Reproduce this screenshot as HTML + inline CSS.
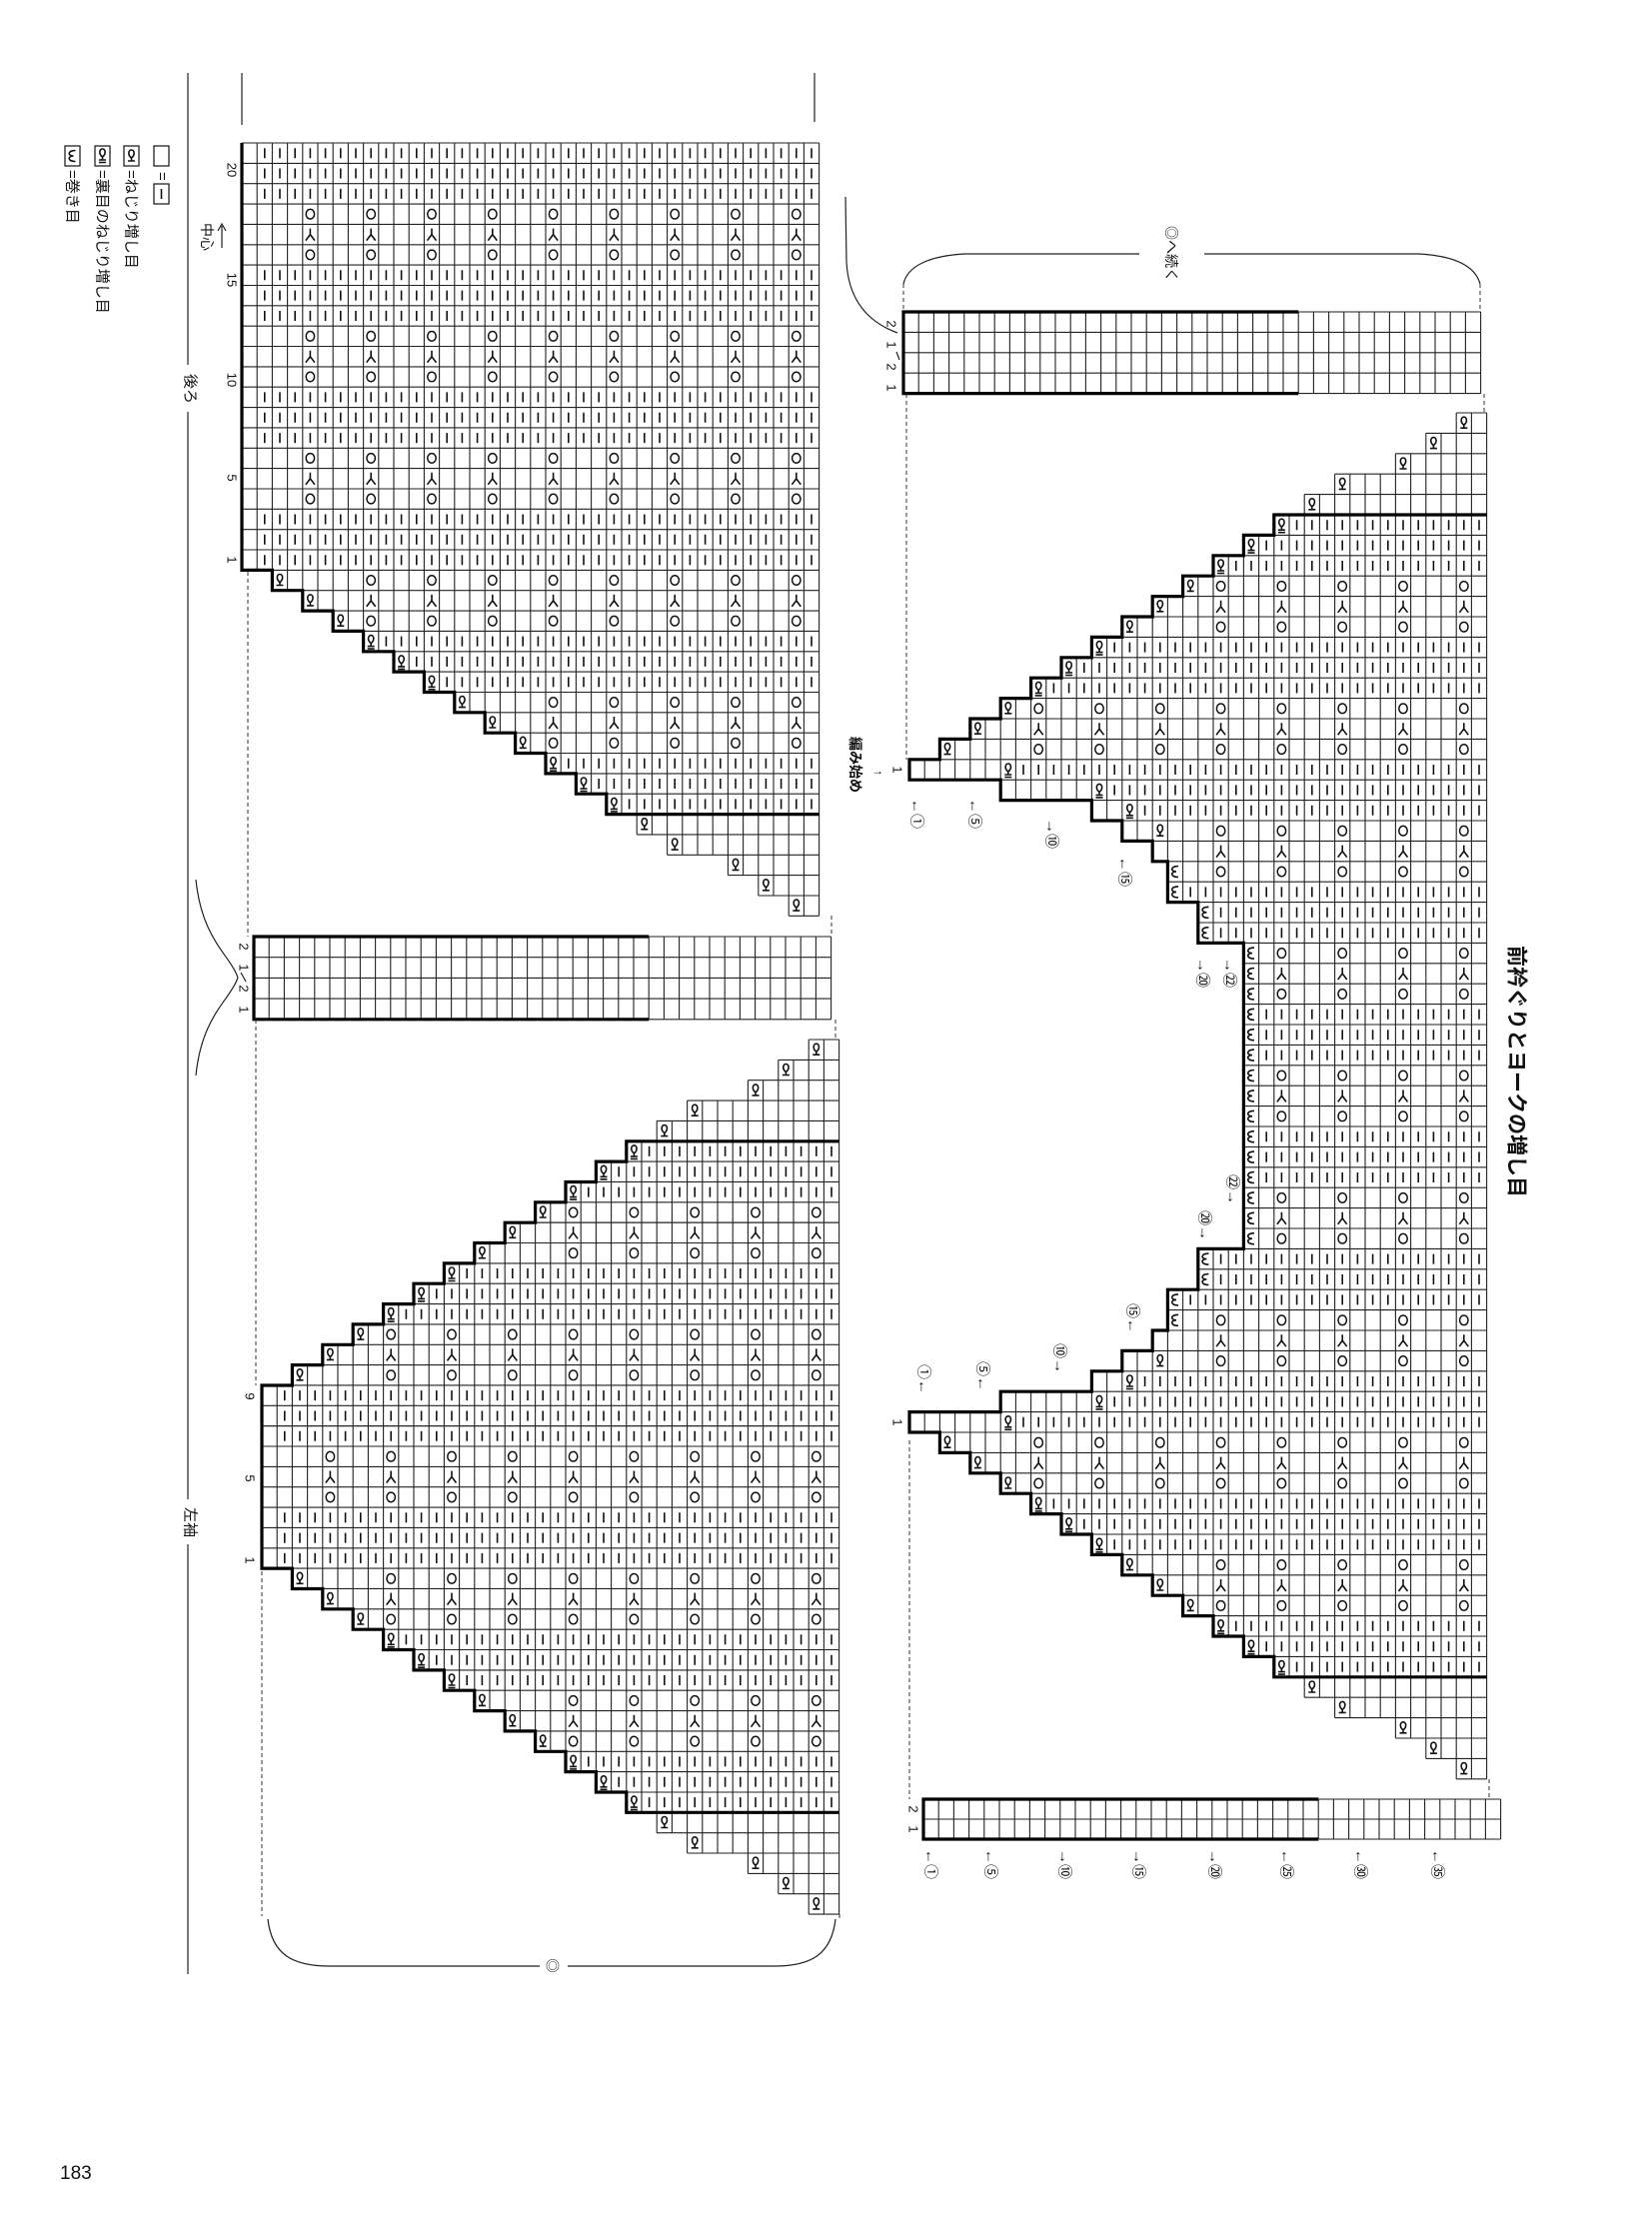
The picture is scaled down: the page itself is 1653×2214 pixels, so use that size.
<!DOCTYPE html>
<html><head><meta charset="utf-8">
<style>
html,body{margin:0;padding:0;background:#fff;}
svg{display:block;}
text{font-family:"Liberation Sans","Noto Sans CJK JP",sans-serif;fill:#111;}
</style></head>
<body>
<svg id="s" xmlns="http://www.w3.org/2000/svg" width="1653" height="2214" viewBox="0 0 1653 2214">
<rect width="1653" height="2214" fill="#fff"/>
<g id="g"></g>
<g fill="none" stroke="#222" stroke-width="1.2">
  <path d="M188 73V365M188 412V1500M188 1545V1975"/>
  <path d="M242 73V125M815 73V122"/>
  <path d="M222 248V226M218 231L222 224L226 231"/>
  <path d="M196 880C202 940 230 955 238 978C230 1001 202 1016 196 1076"/>
  <path d="M268 1920C272 1955 292 1967 330 1967L540 1967M568 1967L775 1967C812 1967 832 1955 836 1920"/>
  <path d="M904 284C908 266 930 256 965 254L1140 254M1205 254L1420 254C1455 256 1476 266 1481 284"/>
  <path d="M846 197L847 262C849 300 868 322 898 333"/>
</g>
<g fill="none" stroke="#333" stroke-width="1" stroke-dasharray="4 3">
  <path d="M248 572V937M832 916V937M256 1020V1386M836 1020V1040M262 1572V1917M840 1915V1920"/>
  <path d="M904 284V312M1481 284V312M907 394V760M1485 394V413M910 1441V1800M1490 1780V1800"/>
</g>
<g font-size="15">
  <text transform="translate(162,172) rotate(90)" text-anchor="start" dominant-baseline="central">=</text>
  <text transform="translate(131,170) rotate(90)" text-anchor="start" dominant-baseline="central">=ねじり増し目</text>
  <text transform="translate(102,170) rotate(90)" text-anchor="start" dominant-baseline="central">=裏目のねじり増し目</text>
  <text transform="translate(72,170) rotate(90)" text-anchor="start" dominant-baseline="central">=巻き目</text>
</g>
<g fill="none" stroke="#222" stroke-width="1.3">
  <rect x="154" y="146" width="15" height="20"/>
  <rect x="154" y="184" width="15" height="20"/>
  <rect x="124" y="146" width="15" height="20"/>
  <rect x="95" y="146" width="15" height="20"/>
  <rect x="65" y="146" width="15" height="20"/>
</g>
<g font-size="13">
  <text transform="translate(232,170) rotate(90)" text-anchor="middle" dominant-baseline="central">20</text>
  <text transform="translate(232,280) rotate(90)" text-anchor="middle" dominant-baseline="central">15</text>
  <text transform="translate(232,380) rotate(90)" text-anchor="middle" dominant-baseline="central">10</text>
  <text transform="translate(232,478) rotate(90)" text-anchor="middle" dominant-baseline="central">5</text>
  <text transform="translate(232,560) rotate(90)" text-anchor="middle" dominant-baseline="central">1</text>
  <text transform="translate(250,1397) rotate(90)" text-anchor="middle" dominant-baseline="central">9</text>
  <text transform="translate(250,1479) rotate(90)" text-anchor="middle" dominant-baseline="central">5</text>
  <text transform="translate(250,1561) rotate(90)" text-anchor="middle" dominant-baseline="central">1</text>
  <text transform="translate(244,947) rotate(90)" text-anchor="middle" dominant-baseline="central">2</text>
  <text transform="translate(244,968) rotate(90)" text-anchor="middle" dominant-baseline="central">1</text>
  <text transform="translate(244,989) rotate(90)" text-anchor="middle" dominant-baseline="central">2</text>
  <text transform="translate(244,1010) rotate(90)" text-anchor="middle" dominant-baseline="central">1</text>
  <text transform="translate(892,324) rotate(90)" text-anchor="middle" dominant-baseline="central">2</text>
  <text transform="translate(892,345) rotate(90)" text-anchor="middle" dominant-baseline="central">1</text>
  <text transform="translate(892,367) rotate(90)" text-anchor="middle" dominant-baseline="central">2</text>
  <text transform="translate(892,388) rotate(90)" text-anchor="middle" dominant-baseline="central">1</text>
  <text transform="translate(914,1810) rotate(90)" text-anchor="middle" dominant-baseline="central">2</text>
  <text transform="translate(914,1830) rotate(90)" text-anchor="middle" dominant-baseline="central">1</text>
  <text transform="translate(898,770) rotate(90)" text-anchor="middle" dominant-baseline="central">1</text>
  <text transform="translate(898,1423) rotate(90)" text-anchor="middle" dominant-baseline="central">1</text>
  <text x="872" y="775" font-size="12">→</text>
</g>
<path d="M897 352L900 360M241 973L246 982" stroke="#222" stroke-width="1.2"/>
<g font-size="15">
  <text transform="translate(190,389) rotate(90)" text-anchor="middle" dominant-baseline="central">後ろ</text>
  <text transform="translate(190,1523) rotate(90)" text-anchor="middle" dominant-baseline="central">左袖</text>
  <text transform="translate(207,237) rotate(90)" text-anchor="middle" dominant-baseline="central" font-size="14">中心</text>
  <text x="553" y="1972" text-anchor="middle" font-size="14">◎</text>
  <text transform="translate(1172,254) rotate(90)" text-anchor="middle" dominant-baseline="central" font-size="14">◎へ続く</text>
  <text transform="translate(856,765) rotate(90)" text-anchor="middle" dominant-baseline="central" font-size="14" font-weight="bold">編み始め</text>
  <text transform="translate(1517,1072) rotate(90)" text-anchor="middle" dominant-baseline="central" font-size="21" font-weight="bold">前衿ぐりとヨークの増し目</text>
</g>
<g font-size="15">
  <text transform="translate(917,814) rotate(90)" text-anchor="middle" dominant-baseline="central">←①</text>
  <text transform="translate(975,814) rotate(90)" text-anchor="middle" dominant-baseline="central">←⑤</text>
  <text transform="translate(1052,834) rotate(90)" text-anchor="middle" dominant-baseline="central">→⑩</text>
  <text transform="translate(1125,872) rotate(90)" text-anchor="middle" dominant-baseline="central">←⑮</text>
  <text transform="translate(1203,973) rotate(90)" text-anchor="middle" dominant-baseline="central">→⑳</text>
  <text transform="translate(1230,973) rotate(90)" text-anchor="middle" dominant-baseline="central">→㉒</text>
  <text transform="translate(924,1380) rotate(90)" text-anchor="middle" dominant-baseline="central">①←</text>
  <text transform="translate(983,1377) rotate(90)" text-anchor="middle" dominant-baseline="central">⑤←</text>
  <text transform="translate(1060,1359) rotate(90)" text-anchor="middle" dominant-baseline="central">⑩→</text>
  <text transform="translate(1133,1319) rotate(90)" text-anchor="middle" dominant-baseline="central">⑮←</text>
  <text transform="translate(1205,1226) rotate(90)" text-anchor="middle" dominant-baseline="central">⑳→</text>
  <text transform="translate(1233,1190) rotate(90)" text-anchor="middle" dominant-baseline="central">㉒→</text>
  <text transform="translate(931,1865) rotate(90)" text-anchor="middle" dominant-baseline="central">←①</text>
  <text transform="translate(991,1865) rotate(90)" text-anchor="middle" dominant-baseline="central">←⑤</text>
  <text transform="translate(1065,1865) rotate(90)" text-anchor="middle" dominant-baseline="central">→⑩</text>
  <text transform="translate(1139,1865) rotate(90)" text-anchor="middle" dominant-baseline="central">→⑮</text>
  <text transform="translate(1215,1865) rotate(90)" text-anchor="middle" dominant-baseline="central">→⑳</text>
  <text transform="translate(1287,1865) rotate(90)" text-anchor="middle" dominant-baseline="central">←㉕</text>
  <text transform="translate(1361,1865) rotate(90)" text-anchor="middle" dominant-baseline="central">←㉚</text>
  <text transform="translate(1438,1865) rotate(90)" text-anchor="middle" dominant-baseline="central">←㉟</text>
</g>
<text x="60" y="2180" font-size="19">183</text>
</svg>
<script>
(function(){
const NS='http://www.w3.org/2000/svg';
const G=document.getElementById('g');
function el(tag,attrs){const e=document.createElementNS(NS,tag);for(const k in attrs)e.setAttribute(k,attrs[k]);G.appendChild(e);return e;}
const P=[],S=[],E=[],T=[];
function f(n){return Math.round(n*10)/10;}
function sym(type,cx,cy){
  cx=f(cx);cy=f(cy);
  if(type==='bar') S.push('M'+cx+' '+(cy-5)+'V'+(cy+5));
  else if(type==='O') E.push([cx,cy]);
  else if(type==='Y') S.push('M'+cx+' '+(cy-6)+'V'+cy+'L'+f(cx-4.5)+' '+(cy+6)+'M'+cx+' '+cy+'L'+f(cx+4.5)+' '+(cy+6));
  else if(type==='l'||type==='lp'){
    S.push('M'+f(cx-3.5)+' '+(cy+5)+'H'+f(cx+3.5)+'M'+cx+' '+(cy+5)+'V'+(cy+2)+'C'+(cx-4)+' '+(cy-1)+' '+(cx-3)+' '+(cy-6)+' '+cx+' '+(cy-6)+'C'+(cx+3)+' '+(cy-6)+' '+(cx+4)+' '+(cy-1)+' '+cx+' '+(cy+2));
    if(type==='lp') S.push('M'+f(cx-3.5)+' '+(cy+7.5)+'H'+f(cx+3.5));
  } else if(type==='w'){
    S.push('M'+(cx+3)+' '+f(cy-5.5)+'C'+(cx-5)+' '+f(cy-5.5)+' '+(cx-5)+' '+cy+' '+(cx+1)+' '+cy+'C'+(cx-5)+' '+cy+' '+(cx-5)+' '+f(cy+5.5)+' '+(cx+3)+' '+f(cy+5.5));
  }
}
function isOY(t){return t==='O'||t==='Y';}
function chart(x0,y0,cw,rh,rows,N){
  const X=c=>x0+c*cw, Y=i=>y0+i*rh;
  rows.forEach((r,i)=>{
    const y=Y(i);
    P.push('M'+f(X(r.s))+' '+f(y)+'H'+f(X(N))+'M'+f(X(r.s))+' '+f(y+rh)+'H'+f(X(N)));
    for(let c=r.s;c<=N;c++) P.push('M'+f(X(c))+' '+f(y)+'V'+f(y+rh));
  });
  rows.forEach((r,i)=>{
    const cy=Y(i)+rh/2, cx=c=>X(c)+cw/2;
    const fc=r.first?(r.fc!==undefined?r.fc:r.s):null;
    if(r.first) sym(r.first,cx(fc),cy);
    if(r.t==='L'){const from=r.first?fc+1:r.s+1;for(let c=from;c<N;c++) sym('bar',cx(c),cy);}
    else if(isOY(r.t)){
      let a=i,b=i;
      while(a>0&&isOY(rows[a-1].t))a--;
      while(b<rows.length-1&&isOY(rows[b+1].t))b++;
      let m=0;
      for(let j=a;j<=b;j++){const rr=rows[j];const v=rr.first?(rr.fc!==undefined?rr.fc:rr.s):rr.s;if(v>m)m=v;}
      let st=Math.max(4,Math.ceil((m+2)/4)*4);
      for(let c=st;c<N;c+=4) sym(r.t==='Y'?'Y':'O',cx(c),cy);
    }
  });
}
function thick(x0,y0,cw,rh,rows,a,b,top,bottom,N){
  const X=c=>f(x0+c*cw), Y=i=>f(y0+i*rh);
  let d=top?('M'+X(N)+' '+Y(a)+'H'+X(rows[a].s)):('M'+X(rows[a].s)+' '+Y(a));
  for(let i=a;i<=b;i++) d+='H'+X(rows[i].s)+'V'+Y(i+1);
  if(bottom) d+='H'+X(N);
  T.push(d);
}
const sL=[2,4,6,8,10,12,14,16,18,20,22,24,26,28,32,34,36];
const tS=['O','Y','O','L','L','L','O','Y','O','L','L','L','E','E','E','E','E'];
function stairDown(){return sL.map((s,k)=>({s:s,t:tS[k],first:tS[k]==='L'?'lp':'l'}));}
function stairUp(){return stairDown().reverse();}
function rect(str){return str.split('').map(t=>({s:0,t:t}));}
const back=[...rect('LLLOYOLLLOYOLLLOYOLLL'),...stairDown()];
const sleeve=[...stairUp(),...rect('LLLOYOLLL'),...stairDown()];
const spec={17:[0,'lp',6],18:[6,'lp',12],19:[12,'lp',14],20:[14,'l',16],21:[16,null,16],22:[17,'w',17],23:[17,'w',17],24:[19,'w',19],25:[19,'w',19]};
const front=[...stairUp()];
for(let r=17;r<=49;r++){
  const k=r<=33?r:66-r;
  const sp=spec[k]||[22,'w',22];
  const m=(r-5)%3, blk=Math.floor((r-5)/3);
  const t=blk%2===0?'L':(m===1?'Y':'O');
  const o={s:sp[0],t:t};
  if(sp[1]){o.first=sp[1];o.fc=sp[2];}
  front.push(o);
}
front.push(...stairDown());
const N=38;
chart(242,143,15.2,20.35,back,N);
thick(242,143,15.2,20.35,back,0,32,false,true,N);
chart(262,1040,15.2,20.35,sleeve,N);
thick(262,1040,15.2,20.35,sleeve,5,37,true,true,N);
chart(910,413,15.2,20.4,front,N);
thick(910,413,15.2,20.4,front,5,61,true,true,N);
function band(x0,y0,rh,n){
  const rows=[];for(let i=0;i<n;i++)rows.push({s:0,t:'N'});
  chart(x0,y0,15.2,rh,rows,N);
  T.push('M'+f(x0+26*15.2)+' '+y0+'H'+x0+'V'+f(y0+n*rh)+'H'+f(x0+26*15.2));
}
band(904,312,20.4,4);
band(254,937,20.7,4);
band(924,1800,20,2);
sym('bar',161.5,194);
sym('l',131.5,156);
sym('lp',102.5,155);
sym('w',72.5,156);
el('path',{d:P.join(''),fill:'none',stroke:'#222','stroke-width':'1.1'});
el('path',{d:T.join(''),fill:'none',stroke:'#000','stroke-width':'3.2','stroke-linejoin':'miter'});
el('path',{d:S.join(''),fill:'none',stroke:'#111','stroke-width':'1.6'});
const eg=document.createElementNS(NS,'g');eg.setAttribute('fill','none');eg.setAttribute('stroke','#111');eg.setAttribute('stroke-width','1.5');
E.forEach(p=>{const e=document.createElementNS(NS,'ellipse');e.setAttribute('cx',p[0]);e.setAttribute('cy',p[1]);e.setAttribute('rx','4.2');e.setAttribute('ry','4.8');eg.appendChild(e);});
G.appendChild(eg);
})();
</script>
</body></html>
